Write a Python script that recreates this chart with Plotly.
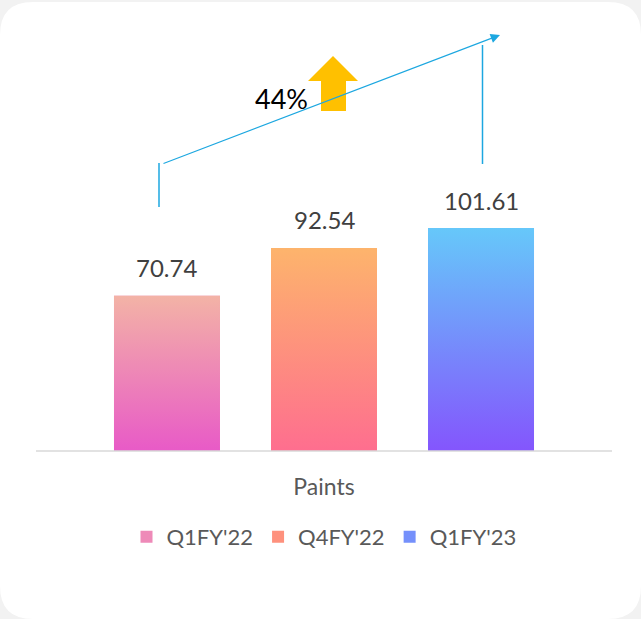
import plotly.graph_objects as go

# ---- data ----
category = ["Paints"]
series = ["Q1FY'22", "Q4FY'22", "Q1FY'23"]
values = [70.74, 92.54, 101.61]
growth_label = "44%"

# ---- styles ----
top_colors = ["#f3b3a6", "#fdb46c", "#66c8fa"]
bottom_colors = ["#e85ac7", "#fe6e8f", "#8455fd"]
mid_colors = ["#ee8ab8", "#fe917d", "#7590fb"]
offsets = [-0.2726, 0.0, 0.2726]
bar_w = 0.184
FONT = "Lato"

W, H = 641, 619
ML, MR, MT, MB = 36, 29, 0, 168
PW, PH = W - ML - MR, H - MT - MB


def px(x):
    return (x - ML) / PW


def py(y):
    return (H - MB - y) / PH


fig = go.Figure()

for i, (s, v) in enumerate(zip(series, values)):
    fig.add_trace(go.Bar(
        x=[offsets[i]], y=[v], name=s, width=bar_w,
        marker=dict(color=mid_colors[i], line=dict(width=0)),
        hoverinfo="skip",
    ))

# gradient overlays built from the same values
for i, v in enumerate(values):
    c = offsets[i]
    fig.add_trace(go.Scatter(
        x=[c - bar_w / 2, c + bar_w / 2, c + bar_w / 2, c - bar_w / 2, c - bar_w / 2],
        y=[0, 0, v, v, 0],
        mode="lines", line=dict(width=0), fill="toself",
        fillgradient=dict(type="vertical", start=0, stop=v,
                          colorscale=[[0, bottom_colors[i]], [1, top_colors[i]]]),
        showlegend=False, hoverinfo="skip",
    ))

shapes = []
# card background
r = 33
x0, y0, x1, y1 = 0, 2, 641, 619
def P(x, y):
    return f"{px(x)},{py(y)}"
card = (f"M {P(x0 + r, y0)} L {P(x1 - r, y0)} Q {P(x1, y0)} {P(x1, y0 + r)} "
        f"L {P(x1, y1 - r)} Q {P(x1, y1)} {P(x1 - r, y1)} "
        f"L {P(x0 + r, y1)} Q {P(x0, y1)} {P(x0, y1 - r)} "
        f"L {P(x0, y0 + r)} Q {P(x0, y0)} {P(x0 + r, y0)} Z")
shapes.append(dict(type="path", path=card, xref="paper", yref="paper",
                   fillcolor="white", line=dict(width=0), layer="below"))
# baseline
shapes.append(dict(type="line", xref="paper", yref="paper", x0=0, x1=1, y0=0, y1=0,
                   line=dict(color="#d9d9d9", width=1.5)))
# growth connector lines
blue = "#1ca7e0"
shapes.append(dict(type="line", xref="paper", yref="paper",
                   x0=px(159), x1=px(159), y0=py(207), y1=py(163),
                   line=dict(color=blue, width=1.5)))
shapes.append(dict(type="line", xref="paper", yref="paper",
                   x0=px(482.5), x1=px(482.5), y0=py(164), y1=py(45),
                   line=dict(color=blue, width=1.5)))
# yellow up arrow
arrow = (f"M {P(308, 81)} L {P(333, 56)} L {P(358, 81)} L {P(346, 81)} "
         f"L {P(346, 111)} L {P(321, 111)} L {P(321, 81)} Z")
shapes.append(dict(type="path", path=arrow, xref="paper", yref="paper",
                   fillcolor="#ffc000", line=dict(width=0)))

annotations = [
    dict(xref="paper", yref="paper", x=px(500), y=py(35), ax=162 - 500, ay=164 - 35,
         axref="pixel", ayref="pixel", showarrow=True, arrowhead=2, arrowsize=1.7,
         arrowwidth=1.1, arrowcolor=blue, text=""),
    dict(xref="paper", yref="paper", x=px(281), y=py(98), text=growth_label,
         xanchor="center", yanchor="middle", showarrow=False,
         font=dict(family=FONT, size=27, color="#000000")),
]
# value labels above bars
for i, v in enumerate(values):
    annotations.append(dict(xref="x", yref="y", x=offsets[i], y=v, yshift=28,
                            text=f"{v:.2f}", showarrow=False,
                            xanchor="center", yanchor="middle",
                            font=dict(family=FONT, size=24, color="#404040")))

fig.update_layout(
    width=W, height=H,
    margin=dict(l=ML, r=MR, t=MT, b=MB),
    paper_bgcolor="#f2f2f2", plot_bgcolor="rgba(0,0,0,0)",
    barmode="overlay",
    shapes=shapes, annotations=annotations,
    xaxis=dict(range=[-0.5, 0.5], tickvals=[0], ticktext=category,
               showgrid=False, zeroline=False, showline=False, ticks="",
               ticklabelstandoff=20,
               tickfont=dict(family=FONT, size=23, color="#595959")),
    yaxis=dict(range=[0, 205.5], visible=False),
    showlegend=True,
    legend=dict(orientation="h", x=0.5, xanchor="center", y=py(537), yanchor="middle",
                font=dict(family=FONT, size=22, color="#595959"),
                bgcolor="rgba(0,0,0,0)", itemwidth=30),
    font=dict(family=FONT),
)

fig.write_html("out.html", config={"displayModeBar": False},
               post_script="document.body.style.margin='0';document.body.style.overflow='hidden';")
